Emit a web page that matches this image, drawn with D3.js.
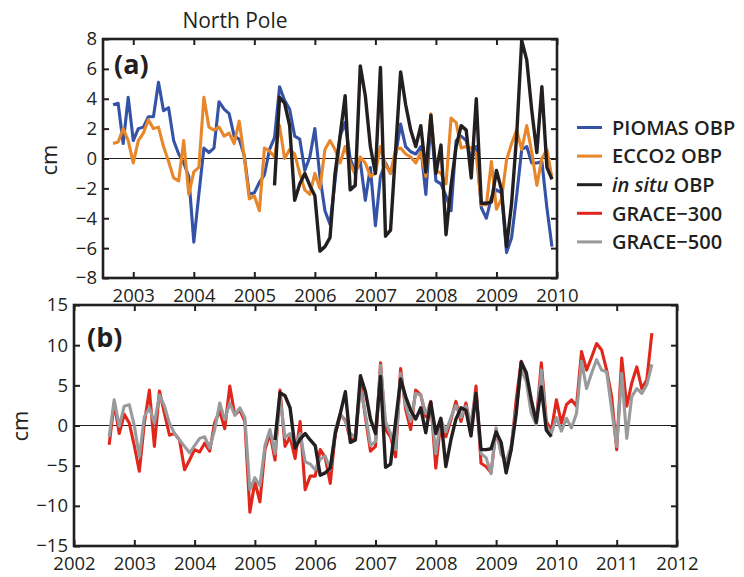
<!DOCTYPE html>
<html>
<head>
<meta charset="utf-8">
<script src="https://cdn.jsdelivr.net/npm/d3@7"></script>
<style>
  body { margin: 0; background: #fff; }
  svg { display: block; }
  text { font-family: "Open Sans", sans-serif; fill: #231f20; }
</style>
</head>
<body>
<svg id="chart" width="744" height="577"></svg>
<script>
// Monthly ocean bottom pressure anomalies (cm), North Pole
// Each series: [first year, first month] + monthly values

const piomasStart = [2002, 9];
const piomas = [
  3.6, 3.7, 1.0, 4.1,
  1.2, 2.0, 2.1, 2.8, 2.8, 5.1, 3.2, 3.4, 1.2, 0.3, -0.3, -1.2,
  -5.6, -2.4, 0.7, 0.4, 0.7, 3.8, 3.3, 3.0, 1.5, 1.3, 0.2, -2.4,
  -2.3, -1.6, -1.1, 0.6, 1.4, 4.8, 3.9, 3.3, 1.5, 1.3, -0.8, 0.1,
  2.0, -1.2, -3.5, -4.4, -1.5, 1.5, 2.4, 0.0, -0.9, -0.2, -2.8, -0.6,
  -4.5, -1.2, -0.3, -1.0, 0.2, 2.3, 0.8, 0.45, 0.3, 0.8, -2.4, 2.5,
  -1.5, -1.7, -2.5, -3.5, 1.2, 1.5, 1.2, -0.1, 0.8, -3.3, -4.0, -2.6,
  -2.1, -2.3, -6.3, -5.3, -2.5, 0.6, 0.8, -0.3, -0.3, -0.2, -3.3, -5.9
];

const ecco2Start = [2002, 9];
const ecco2 = [
  1.0, 1.1, 2.0, 1.2,
  -0.3, 1.2, 1.7, 2.6, 2.0, 2.1, 0.8, -0.2, -1.3, -1.5, 1.2, -2.4,
  -0.9, -0.6, 4.1, 2.1, 1.9, 2.1, 1.5, 1.7, 1.0, 2.5, 0.1, -2.7,
  -2.5, -3.5, 0.7, 0.5, 0.1, 2.2, 0.0, 0.6, 0.3, -1.0, -2.1, -2.4,
  -1.0, -2.0, 0.6, 1.2, 0.6, -0.3, 0.8, -0.3, -1.1, 0.1, -0.3, -1.2,
  -1.0, 0.8, -0.4, -1.0, 0.6, 0.7, 0.3, 0.1, -0.3, 0.4, -1.2, 3.0,
  -0.8, -1.0, -1.7, 2.7, 2.4, 0.7, 0.8, 0.7, 0.3, -3.1, -3.1, -0.2,
  -3.4, -2.7, -0.1, 1.0, 1.9, 0.6, 2.2, 0.4, -1.8, 0.0, 0.6, -1.3
];

const inSituStart = [2005, 5];
const inSitu = [
  -1.8, 4.1, 3.7, 2.2, -2.8, -1.7, -1.0, -1.8,
  -2.5, -6.2, -5.9, -5.3, -1.0, 1.5, 4.2, -2.1, -1.8, 6.2, 4.2, 0.8,
  -1.0, 6.1, -5.2, -4.8, 0.5, 5.8, 3.6, 1.9, 0.8, 2.2, -0.9, 2.9,
  -1.0, 0.9, -5.1, -1.8, 0.8, 2.2, 1.9, -1.3, 4.0, -3.0, -3.0, -2.9,
  -0.8, -2.1, -5.9, -3.0, 1.5, 7.9, 6.6, 3.2, 0.4, 4.8, -0.6, -1.4
];

const grace300Start = [2002, 8];
const grace300 = [
  -2.4, 2.8, -1.0, 1.4, 0.3,
  -2.5, -5.7, 0.3, 4.4, -2.6, 4.3, 1.5, -1.2, -1.0, -1.8, -5.5, -4.3,
  -3.0, -3.3, -2.2, -3.2, 0.4, 1.8, -0.4, 4.9, 1.3, 1.9, 0.5, -10.8,
  -7.0, -9.5, -3.0, -1.0, -4.3, 4.4, -2.6, -1.4, -4.1, 0.5, -8.0, -6.3,
  -6.3, -3.0, -4.0, -7.2, -1.0, 1.3, 0.7, -1.8, -1.6, 5.5, 1.0, -3.2,
  -2.6, 7.8, -0.5, -1.4, -3.9, 7.1, 2.0, -0.5, 4.4, 3.8, 1.1, 3.0,
  -5.3, 0.5, -1.4, 0.7, 3.0, 0.5, 2.8, -0.5, 4.9, -4.7, -5.1, -5.9,
  -0.5, -3.4, -4.6, -3.0, 3.2, 8.0, 6.1, 2.5, 0.5, 7.8, 0.5, -0.6,
  3.2, 0.3, 2.6, 3.2, 2.4, 9.2, 6.9, 8.5, 10.2, 9.4, 6.9, 3.6,
  -3.0, 8.4, 2.4, 5.3, 7.3, 4.6, 5.7, 11.5
];

const grace500Start = [2002, 8];
const grace500 = [
  -1.4, 3.2, -0.1, 2.4, 2.6,
  0.0, -3.9, 1.1, 2.2, 0.3, 3.8, 2.4, 0.3, -1.0, -1.8, -2.6, -3.4,
  -2.5, -1.6, -1.4, -2.8, -0.5, 2.8, 0.7, 2.8, 1.3, 2.2, 1.0, -8.0,
  -6.5, -7.5, -2.5, -0.5, -3.5, 3.5, -1.5, -1.0, -2.5, -1.0, -4.5, -4.8,
  -5.5, -4.2, -3.8, -5.5, -0.5, 1.5, 0.5, -1.0, -1.5, 4.5, 1.5, -2.5,
  -2.0, 7.5, 0.5, -1.0, -3.0, 6.5, 2.5, 0.5, 4.0, 3.8, 1.5, 2.5,
  -3.5, 0.8, -0.8, 1.0, 2.5, 1.0, 2.4, 0.3, 4.0, -3.5, -4.0, -6.0,
  -0.3, -3.6, -4.5, -2.5, 2.0, 7.0, 5.5, 1.5, 0.1, 6.9, 0.0, -1.0,
  1.0, -0.7, 0.9, -0.3, 1.5, 8.0, 4.6, 6.5, 8.2, 6.9, 6.7, 2.0,
  -2.6, 6.5, -1.6, 3.6, 4.6, 4.0, 5.1, 7.6
];

const yearTicksA = [2003, 2004, 2005, 2006, 2007, 2008, 2009, 2010];
const yearTicksB = [2002, 2003, 2004, 2005, 2006, 2007, 2008, 2009, 2010, 2011, 2012];
const cmTicksA = [-8, -6, -4, -2, 0, 2, 4, 6, 8];
const cmTicksB = [-15, -10, -5, 0, 5, 10, 15];

const legendNames = ["PIOMAS OBP", "ECCO2 OBP", "in situ OBP", "GRACE\u2212300", "GRACE\u2212500"];
const colors = {
  piomas: "#3553a6",
  ecco2: "#e8862a",
  inSitu: "#231f20",
  grace300: "#e1261c",
  grace500: "#999a9c"
};

function monthly(start, values) {
  return values.map((v, i) => ({ t: start[0] + (start[1] - 1 + i) / 12, v }));
}

const svg = d3.select("#chart");

function panel(opts) {
  const x = d3.scaleLinear().domain(opts.xDomain).range([opts.left, opts.right]);
  const y = d3.scaleLinear().domain(opts.yDomain).range([opts.bottom, opts.top]);
  const g = svg.append("g");

  // zero reference line
  g.append("line")
    .attr("x1", opts.left).attr("x2", opts.right)
    .attr("y1", y(0)).attr("y2", y(0))
    .attr("stroke", "#231f20").attr("stroke-width", 1);

  const line = d3.line().x(d => x(d.t)).y(d => y(d.v));
  opts.series.forEach(s => {
    g.append("path")
      .datum(monthly(s.start, s.values))
      .attr("d", line)
      .attr("fill", "none")
      .attr("stroke", s.color)
      .attr("stroke-width", s.width || 3.1)
      .attr("stroke-linejoin", "round")
      .attr("stroke-linecap", "butt");
  });

  const styleAxis = sel => {
    sel.select(".domain").remove();
    sel.selectAll(".tick line").attr("stroke", "#231f20").attr("stroke-width", 2);
    sel.selectAll(".tick text")
      .attr("font-size", "18.5px")
      .attr("fill", "#231f20")
      .style("font-family", '"Open Sans", sans-serif');
  };

  g.append("g").attr("transform", `translate(0,${opts.bottom})`)
    .call(d3.axisBottom(x).tickValues(opts.xTicks).tickFormat(d3.format("d"))
      .tickSize(-6).tickPadding(5))
    .call(styleAxis)
    .selectAll(".tick text").attr("dy", "1.0em");
  g.append("g").attr("transform", `translate(0,${opts.top})`)
    .call(d3.axisTop(x).tickValues(opts.xTicks).tickFormat("").tickSize(-6))
    .call(styleAxis);
  g.append("g").attr("transform", `translate(${opts.left},0)`)
    .call(d3.axisLeft(y).tickValues(opts.yTicks).tickSize(-6).tickPadding(6))
    .call(styleAxis);
  g.append("g").attr("transform", `translate(${opts.right},0)`)
    .call(d3.axisRight(y).tickValues(opts.yTicks).tickFormat("").tickSize(-6))
    .call(styleAxis);

  g.append("rect")
    .attr("x", opts.left).attr("y", opts.top)
    .attr("width", opts.right - opts.left).attr("height", opts.bottom - opts.top)
    .attr("fill", "none").attr("stroke", "#231f20").attr("stroke-width", 2.6);

  g.append("text")
    .attr("x", opts.tag[0]).attr("y", opts.tag[1])
    .attr("font-size", "27px").attr("font-weight", 700)
    .text(opts.tagText);

  g.append("text")
    .attr("transform", `translate(${opts.cm[0]},${opts.cm[1]}) rotate(-90)`)
    .attr("text-anchor", "middle")
    .attr("font-size", "22px")
    .text("cm");
}

panel({
  left: 103, right: 557, top: 39, bottom: 278,
  xDomain: [2002.5, 2010], yDomain: [-8, 8],
  xTicks: yearTicksA, yTicks: cmTicksA,
  tag: [114, 74], tagText: "(a)",
  cm: [57, 160],
  series: [
    { start: piomasStart, values: piomas, color: colors.piomas },
    { start: ecco2Start, values: ecco2, color: colors.ecco2 },
    { start: inSituStart, values: inSitu, color: colors.inSitu, width: 3.4 }
  ]
});

panel({
  left: 74, right: 677, top: 305, bottom: 546,
  xDomain: [2002, 2012], yDomain: [-15, 15],
  xTicks: yearTicksB, yTicks: cmTicksB,
  tag: [87, 347], tagText: "(b)",
  cm: [28, 426],
  series: [
    { start: grace300Start, values: grace300, color: colors.grace300 },
    { start: grace500Start, values: grace500, color: colors.grace500 },
    { start: inSituStart, values: inSitu, color: colors.inSitu, width: 3.4 }
  ]
});

// title
svg.append("text")
  .attr("x", 235).attr("y", 28)
  .attr("text-anchor", "middle")
  .attr("font-size", "21px")
  .text("North Pole");

// legend
const legendColors = [colors.piomas, colors.ecco2, colors.inSitu, colors.grace300, colors.grace500];
const legend = svg.append("g").attr("transform", "translate(577,127.5)");
legendNames.forEach((name, i) => {
  const row = legend.append("g").attr("transform", `translate(0,${i * 28.6})`);
  row.append("line")
    .attr("x1", 0).attr("x2", 25).attr("y1", 0).attr("y2", 0)
    .attr("stroke", legendColors[i]).attr("stroke-width", 3);
  const t = row.append("text")
    .attr("x", 35).attr("y", 0).attr("dy", "0.36em")
    .attr("font-size", "20px").attr("font-weight", 600);
  if (name.startsWith("in situ")) {
    t.append("tspan").attr("font-style", "italic").text("in situ");
    t.append("tspan").text(" OBP");
  } else {
    t.text(name);
  }
});
</script>
</body>
</html>
